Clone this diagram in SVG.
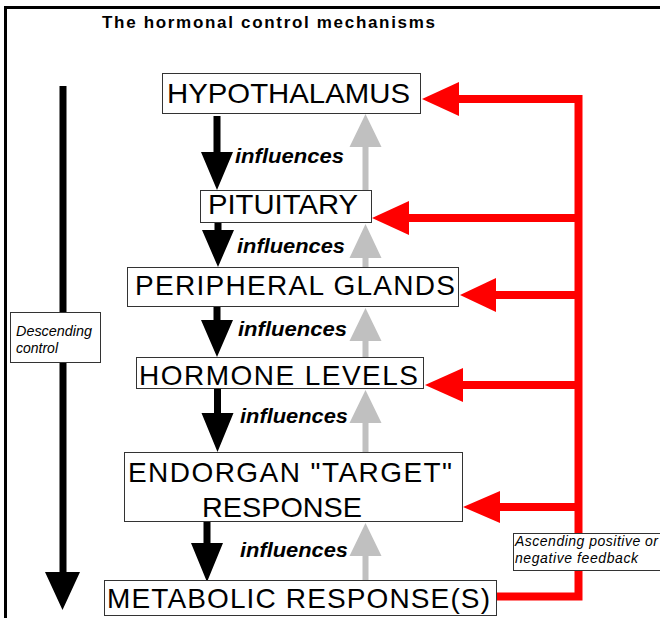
<svg xmlns="http://www.w3.org/2000/svg" width="660" height="618" viewBox="0 0 660 618">
  <style>
    .frame { fill: none; stroke: #000; stroke-width: 3; }
    .box { fill: #fff; stroke: #333; stroke-width: 1; }
    .label { font-family: "Liberation Sans", Arial, sans-serif; font-size: 28px; fill: #000; }
    .title { font-family: "Liberation Sans", Arial, sans-serif; font-size: 17px; font-weight: bold; fill: #000; }
    .infl { font-family: "Liberation Sans", Arial, sans-serif; font-size: 21px; font-style: italic; font-weight: bold; fill: #000; }
    .note { font-family: "Liberation Sans", Arial, sans-serif; font-size: 14px; font-style: italic; fill: #000; }
    .down { fill: #000; }
    .up { fill: #c0c0c0; }
    .fb { fill: #ff0000; }
    .fbline { fill: none; stroke: #ff0000; stroke-width: 8; stroke-linejoin: miter; }
  </style>

  <rect width="660" height="618" fill="#fff"/>

  <!-- outer frame: left and top edges only -->
  <path class="frame" d="M5.5 618 V7.5 H660"/>

  <text class="title" x="102" y="28" textLength="333" lengthAdjust="spacing">The hormonal control mechanisms</text>

  <!-- overall descending arrow -->
  <g id="descending-arrow">
    <polygon class="down" points="59.5,86 66.5,86 66.5,572 80,572 62.5,610 45,572 59.5,572"/>
  </g>

  <g id="connectors">
    <!-- downward "influences" arrows -->
    <polygon class="down" points="213.5,116 220.5,116 220.5,152 233,152 217,190 201,152 213.5,152"/>
    <polygon class="down" points="214.5,222 221.5,222 221.5,230 234,230 218,267 202,230 214.5,230"/>
    <polygon class="down" points="213.5,306 220.5,306 220.5,320 233,320 217,357 201,320 213.5,320"/>
    <polygon class="down" points="214,388 221,388 221,413 233.5,413 217.5,452 201.5,413 214,413"/>
    <polygon class="down" points="203.5,521 210.5,521 210.5,543 223,543 207,582 191,543 203.5,543"/>

    <!-- upward grey arrows -->
    <polygon class="up" points="362.5,190 368.5,190 368.5,147 381.5,147 365.5,114 349.5,147 362.5,147"/>
    <polygon class="up" points="362.5,267 368.5,267 368.5,258 381.5,258 365.5,224 349.5,258 362.5,258"/>
    <polygon class="up" points="362.5,357 368.5,357 368.5,341 381.5,341 365.5,308 349.5,341 362.5,341"/>
    <polygon class="up" points="362.5,452 368.5,452 368.5,423 381.5,423 365.5,390 349.5,423 362.5,423"/>
    <polygon class="up" points="362.5,580 368.5,580 368.5,556 381.5,556 365.5,523 349.5,556 362.5,556"/>

    <!-- red feedback loop -->
    <path class="fbline" d="M496 596.5 H578.5 V99 H458"/>
    <path class="fbline" d="M578.5 218 H408 M578.5 295 H495 M578.5 385 H462 M578.5 507 H499"/>
    <polygon class="fb" points="422,99 459,82 459,116"/>
    <polygon class="fb" points="372,218 409,201 409,235"/>
    <polygon class="fb" points="460,295 496,278 496,312"/>
    <polygon class="fb" points="425,385 463,368 463,402"/>
    <polygon class="fb" points="463,507 500,491 500,523"/>

    <!-- arrow labels -->
    <text class="infl" x="235" y="163" textLength="109" lengthAdjust="spacingAndGlyphs">influences</text>
    <text class="infl" x="237" y="253" textLength="108" lengthAdjust="spacingAndGlyphs">influences</text>
    <text class="infl" x="238" y="336" textLength="109" lengthAdjust="spacingAndGlyphs">influences</text>
    <text class="infl" x="240" y="423" textLength="108" lengthAdjust="spacingAndGlyphs">influences</text>
    <text class="infl" x="240" y="557" textLength="108" lengthAdjust="spacingAndGlyphs">influences</text>
  </g>

  <g id="hypothalamus">
    <rect class="box" x="162.5" y="73.5" width="258" height="40"/>
    <text class="label" x="167" y="103" textLength="243" lengthAdjust="spacingAndGlyphs">HYPOTHALAMUS</text>
  </g>

  <g id="pituitary">
    <rect class="box" x="200.5" y="190.5" width="171" height="32"/>
    <text class="label" x="208" y="214" textLength="150" lengthAdjust="spacingAndGlyphs">PITUITARY</text>
  </g>

  <g id="peripheral-glands">
    <rect class="box" x="127.5" y="267.5" width="331" height="39"/>
    <text class="label" x="135" y="295" textLength="320" lengthAdjust="spacing">PERIPHERAL GLANDS</text>
  </g>

  <g id="hormone-levels">
    <rect class="box" x="136.5" y="357.5" width="287" height="31"/>
    <text class="label" x="139" y="385" textLength="279" lengthAdjust="spacing">HORMONE LEVELS</text>
  </g>

  <g id="endorgan-response">
    <rect class="box" x="124.5" y="452.5" width="338" height="69"/>
    <text class="label" x="128" y="482" textLength="324" lengthAdjust="spacing">ENDORGAN "TARGET"</text>
    <text class="label" x="202" y="517" textLength="160" lengthAdjust="spacingAndGlyphs">RESPONSE</text>
  </g>

  <g id="metabolic-response">
    <rect class="box" x="104.5" y="580.5" width="392" height="35"/>
    <text class="label" x="107" y="608" textLength="383" lengthAdjust="spacing">METABOLIC RESPONSE(S)</text>
  </g>

  <g id="descending-label">
    <rect class="box" x="10.5" y="312.5" width="90" height="50"/>
    <text class="note" x="16" y="336" textLength="76" lengthAdjust="spacingAndGlyphs">Descending</text>
    <text class="note" x="16" y="353">control</text>
  </g>

  <g id="feedback-label">
    <rect class="box" x="513.5" y="533.5" width="160" height="37"/>
    <text class="note" x="515" y="546" textLength="143" lengthAdjust="spacing">Ascending positive or</text>
    <text class="note" x="515" y="563" textLength="123" lengthAdjust="spacing">negative feedback</text>
  </g>
</svg>
